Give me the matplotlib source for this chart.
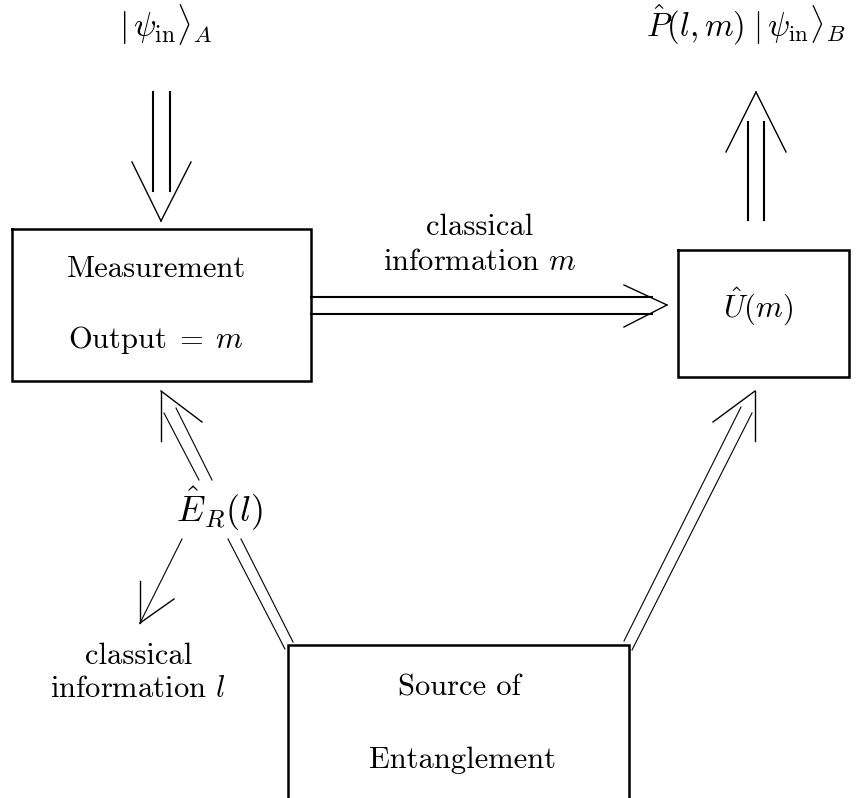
import matplotlib
matplotlib.use('Agg')
import matplotlib.pyplot as plt

plt.rcParams['font.family'] = 'cmr10'
plt.rcParams['mathtext.fontset'] = 'cm'
plt.rcParams['axes.unicode_minus'] = False

# boxes: (left, top, right, bottom) in pixel coords of the 860x798 picture
box_measure = (12, 229, 311, 381)
box_unitary = (678, 250, 849, 377)
box_source = (288, 645, 629, 798)   # bottom edge runs off the picture

# double shafts (thick)
shafts_thick = [
    [(153, 92), (153, 191)], [(170, 92), (170, 191)],      # input into measurement
    [(748, 122), (748, 220)], [(764, 122), (764, 220)],    # output of U
    [(311, 297), (652, 297)], [(311, 314), (652, 314)],    # classical info m
]
# double shafts (thin, slanted)
shafts_thin = [
    [(164, 413), (199, 480)], [(176, 408), (212, 480)],
    [(228, 539), (285, 649)], [(241, 539), (293, 642)],
    [(741, 407), (624, 641)], [(752, 413), (632, 650)],
    [(182, 539), (140, 623)],
]
# arrow heads: (arm1, tip, arm2)
heads = [
    [(132, 162), (161, 221), (191, 162)],
    [(726, 152), (756, 92), (786, 152)],
    [(624, 285), (667, 305), (624, 327)],
    [(161, 441), (161, 391), (202, 422)],
    [(755, 441), (755, 391), (713, 422)],
    [(140, 581), (140, 623), (174, 599)],
]

# (text, x, baseline y, fontsize)
labels = [
    ('Measurement', 156, 277, 22),
    (r'$\mathrm{Output}\;=\;m$', 156, 348, 22),
    ('Source of', 459, 695, 22),
    ('Entanglement', 463, 768, 22),
    ('classical', 480, 235, 22),
    (r'information $m$', 480, 270, 22),
    ('classical', 139, 664, 22),
    (r'information $l$', 138, 697, 22),
    (r'$\hat{E}_R(l)$', 220, 522, 26),
    (r'$\hat{U}(m)$', 758, 318, 22),
    (r'$|\,\psi_{\rm in}\rangle_A$', 166, 37, 24),
    (r'$\hat{P}(l,m)\;|\,\psi_{\rm in}\rangle_B$', 746, 37, 23.5),
]

fig = plt.figure(figsize=(8.6, 7.98), dpi=100)
ax = fig.add_axes([0, 0, 1, 1])
ax.set_xlim(0, 860)
ax.set_ylim(798, 0)
ax.axis('off')

for (l, t, r, b) in [box_measure, box_unitary]:
    ax.plot([l, r, r, l, l], [t, t, b, b, t], color='black', lw=1.8,
            solid_joinstyle='miter')
l, t, r, b = box_source
ax.plot([l, l, r, r], [b + 5, t, t, b + 5], color='black', lw=1.8,
        solid_joinstyle='miter')

for seg in shafts_thick:
    xs, ys = zip(*seg)
    ax.plot(xs, ys, color='black', lw=1.5)
for seg in shafts_thin:
    xs, ys = zip(*seg)
    ax.plot(xs, ys, color='black', lw=0.8)
for h in heads:
    a1, tip, a2 = h
    ax.plot([a1[0], tip[0]], [a1[1], tip[1]], color='black', lw=1.0)
    ax.plot([tip[0], a2[0]], [tip[1], a2[1]], color='black', lw=1.0)

for txt, x, y, fs in labels:
    ax.text(x, y, txt, ha='center', va='baseline', fontsize=fs)

fig.savefig('out.png', dpi=100)
